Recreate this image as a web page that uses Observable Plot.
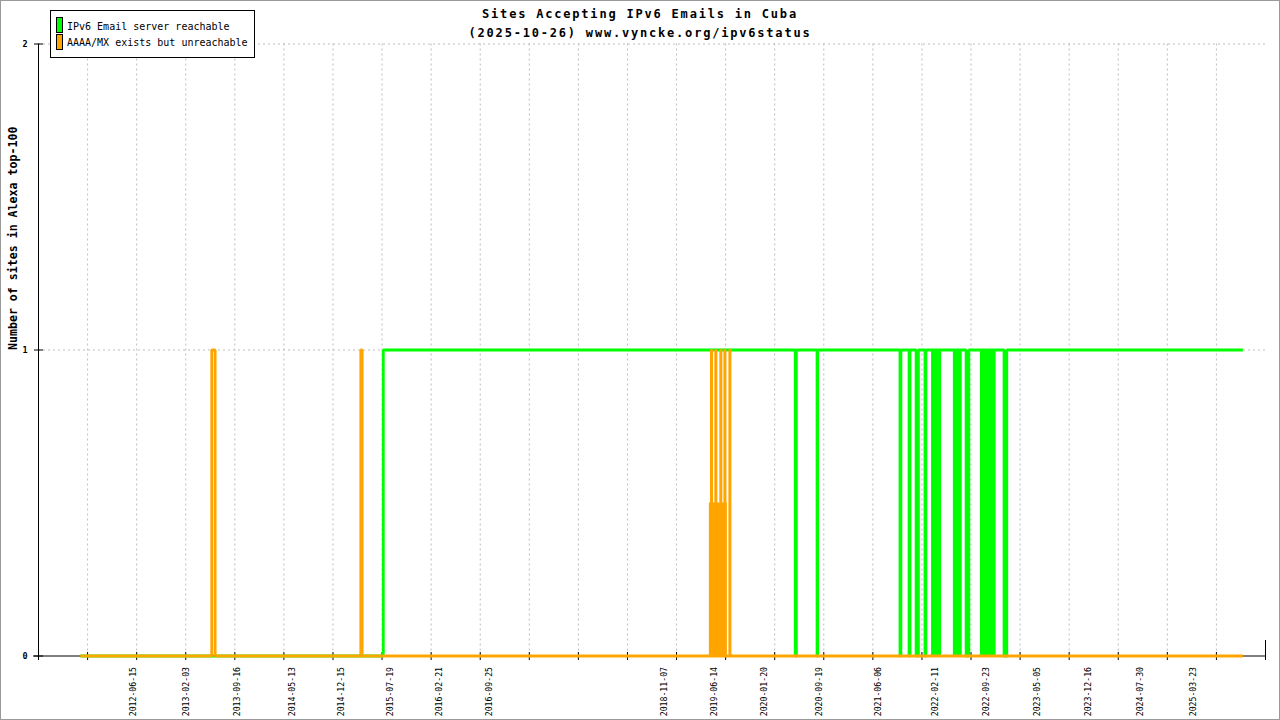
<!DOCTYPE html>
<html>
<head>
<meta charset="utf-8">
<script src="https://cdn.jsdelivr.net/npm/d3@7"></script>
<script src="https://cdn.jsdelivr.net/npm/@observablehq/plot@0.6"></script>
<style>
  body { margin: 0; background: #fff; }
  #wrap { position: relative; width: 1280px; height: 720px; overflow: hidden; background: #fff;
          font-family: "DejaVu Sans Mono", monospace; }
  #chart { position: absolute; left: 0; top: 0; }
  .title { position: absolute; left: 0; width: 1280px; text-align: center; font-size: 12px; font-weight: bold;
           line-height: 14px; letter-spacing: 1.8px; color: #000; white-space: nowrap; }
  #legend { position: absolute; left: 50px; top: 10px; width: 205px; height: 48px; box-sizing: border-box;
            border: 1px solid #000; background: #fff; }
  .sw { position: absolute; left: 5px; width: 7px; height: 16px; box-sizing: border-box; border: 1px solid #000; }
  .lt { position: absolute; left: 16px; font-size: 10px; line-height: 12px; white-space: nowrap; color: #000; }
  #border { position: absolute; left: 0; top: 0; width: 1280px; height: 720px; box-sizing: border-box;
            border: 1px solid #9a9a9a; pointer-events: none; }
</style>
</head>
<body>
<div id="wrap">
  <div id="chart"></div>
  <div class="title" style="top:7px">Sites Accepting IPv6 Emails in Cuba</div>
  <div class="title" style="top:25.5px">(2025-10-26) www.vyncke.org/ipv6status</div>
  <div id="legend"></div>
  <div id="border"></div>
</div>
<script>
// ---- data ----
const seriesNames = ["IPv6 Email server reachable", "AAAA/MX exists but unreachable"];
const seriesColors = ["#00ff00", "#ffa500"];

// IPv6 Email server reachable: [date, number of sites]
const greenSteps = [
  ["2011-10-24", 0],
  ["2015-06-18", 1],
  ["2020-06-04", 0], ["2020-06-09", 1],
  ["2020-09-08", 0], ["2020-09-11", 1],
  ["2021-09-08", 0], ["2021-09-12", 1],
  ["2021-10-18", 0], ["2021-10-22", 1],
  ["2021-11-18", 0], ["2021-11-28", 1],
  ["2021-12-27", 0], ["2021-12-31", 1],
  ["2022-06-26", 0], ["2022-07-08", 1],
  ["2022-12-10", 0], ["2022-12-22", 1],
  ["2025-10-26", 1]
];
// periods where the reachable status flapped between 0 and 1 every sample
const greenFlapping = [
  ["2022-01-25", "2022-03-10", 1],
  ["2022-05-01", "2022-06-09", 1],
  ["2022-08-28", "2022-11-05", 1]
];

// AAAA/MX exists but unreachable: [date, number of sites]
const orangeSteps = [
  ["2011-10-24", 0],
  ["2013-05-24", 1], ["2013-06-08", 0],
  ["2015-03-11", 1], ["2015-03-17", 0],
  ["2019-06-01", 1], ["2019-06-02", 0],
  ["2019-06-20", 1], ["2019-06-21", 0],
  ["2019-07-12", 1], ["2019-07-13", 0],
  ["2019-07-30", 1], ["2019-07-31", 0],
  ["2019-08-21", 1], ["2019-08-22", 0],
  ["2025-10-26", 0]
];
const orangeFlapping = [
  ["2019-05-23", "2019-08-10", 0.5]
];

const xLabels = ["2012-06-15","2013-02-03","2013-09-16","2014-05-13","2014-12-15","2015-07-19",
  "2016-02-21","2016-09-25","2018-11-07","2019-06-14","2020-01-20","2020-09-19","2021-06-06",
  "2022-02-11","2022-09-23","2023-05-05","2023-12-16","2024-07-30","2025-03-23"];
const yTicks = [0, 1, 2];
const xDomain = ["2011-04-22T14:00Z", "2026-02-02T14:00Z"];
const tickCount = 25;

// ---- build ----
const DAY = 864e5;
const x0 = new Date(xDomain[0]), x1 = new Date(xDomain[1]);
const pxDays = ((x1 - x0) / DAY) / 1227; // days per pixel
const shift = (d, px) => new Date(+d + px * pxDays * DAY);
const gridTicks = d3.range(1, tickCount).map(k => new Date(+x0 + k * (x1 - x0) / tickCount));
const toPts = arr => arr.map(([d, v]) => ({date: new Date(d + "T00:00Z"), value: v}));
const toRects = arr => arr.map(([a, b, v]) => ({a: new Date(a + "T00:00Z"), b: new Date(b + "T00:00Z"), v}));
const yu = 1 / 306; // y units per pixel
const grid = {stroke: "#bdbdbd", strokeDasharray: "2,3"};
const font = "DejaVu Sans Mono";

const chart = Plot.plot({
  width: 1280, height: 720,
  marginLeft: 38, marginRight: 15, marginTop: 43.5, marginBottom: 64.5,
  x: {type: "utc", domain: [x0, x1], axis: null},
  y: {domain: [0, 2], axis: null},
  style: {fontFamily: font, background: "transparent", overflow: "visible"},
  marks: [
    Plot.ruleX(gridTicks, {x: d => d, y1: () => 0, y2: () => 2, ...grid}),
    Plot.ruleY([1, 2], {y: d => d, x1: () => x0, x2: () => x1, ...grid}),
    // axes
    Plot.ruleX([x0], {x: d => d, y1: () => -4.5 * yu, y2: () => 2, stroke: "#000"}),
    Plot.ruleY([0], {y: d => d, x1: () => shift(x0, -5), x2: () => x1, stroke: "#000"}),
    Plot.ruleY(yTicks, {y: d => d, x1: () => shift(x0, -4), x2: () => shift(x0, 5), stroke: "#000"}),
    Plot.ruleX(gridTicks, {x: d => d, y1: () => -4.5 * yu, y2: () => 3.5 * yu, stroke: "#000"}),
    Plot.ruleX([x1], {x: d => d, y1: () => -4.5 * yu, y2: () => 15.5 * yu, stroke: "#000"}),
    // series
    Plot.line(toPts(greenSteps), {x: "date", y: "value", curve: "step-after", stroke: seriesColors[0],
      strokeWidth: 2.8, strokeLinejoin: "miter", strokeLinecap: "butt"}),
    Plot.rect(toRects(greenFlapping), {x1: "a", x2: "b", y1: () => 0, y2: "v", fill: seriesColors[0]}),
    Plot.rect(toRects(orangeFlapping), {x1: "a", x2: "b", y1: () => 0, y2: "v", fill: seriesColors[1]}),
    Plot.line(toPts(orangeSteps), {x: "date", y: "value", curve: "step-after", stroke: seriesColors[1],
      strokeWidth: 2.8, strokeLinejoin: "miter", strokeLinecap: "butt"}),
    // tick labels
    Plot.text(yTicks, {x: () => x0, y: d => d, text: d => String(d), dx: -11, textAnchor: "end",
      fontSize: 8.5, fontWeight: "bold", fontFamily: font, fill: "#000"}),
    Plot.text(xLabels, {x: d => new Date(d + "T00:00Z"), y: () => 0, text: d => d, rotate: -90,
      textAnchor: "end", dy: 11, fontSize: 8.2, fontFamily: font, fill: "#000"}),
    Plot.text(["Number of sites in Alexa top-100"], {frameAnchor: "left", dx: -25, rotate: -90,
      text: d => d, fontSize: 11.6, fontWeight: "bold", fontFamily: font, fill: "#000"})
  ]
});
document.getElementById("chart").appendChild(chart);

// legend
const legend = d3.select("#legend");
seriesNames.forEach((name, i) => {
  legend.append("div").attr("class", "sw")
    .style("top", (i === 0 ? 6 : 23) + "px").style("background", seriesColors[i]);
  legend.append("div").attr("class", "lt")
    .style("top", (i === 0 ? 9.5 : 26) + "px").text(name);
});
</script>
</body>
</html>
